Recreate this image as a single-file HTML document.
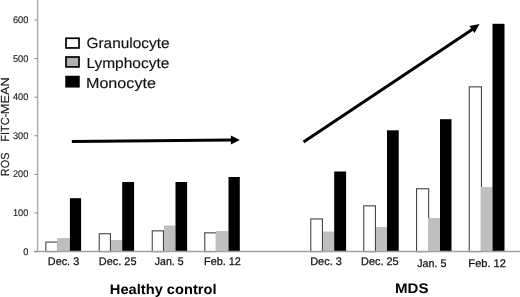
<!DOCTYPE html>
<html><head><meta charset="utf-8"><style>
html,body{margin:0;padding:0;background:#fff;}
body{width:520px;height:297px;overflow:hidden;}
svg{display:block;will-change:transform;}
text{font-family:"Liberation Sans",sans-serif;text-rendering:geometricPrecision;}
</style></head><body>
<svg width="520" height="297" viewBox="0 0 520 297">
<rect width="520" height="297" fill="#fff"/>
<g>
<rect x="45.85" y="242.05" width="12.10" height="9.55" fill="#fff" stroke="#454545" stroke-width="1.1"/>
<rect x="57.30" y="238.00" width="12.60" height="13.60" fill="#bfbfbf"/>
<rect x="69.90" y="198.20" width="11.20" height="53.40" fill="#000"/>
<rect x="99.25" y="233.75" width="11.20" height="17.85" fill="#fff" stroke="#454545" stroke-width="1.1"/>
<rect x="111.00" y="240.00" width="11.20" height="11.60" fill="#bfbfbf"/>
<rect x="122.20" y="182.00" width="11.90" height="69.60" fill="#000"/>
<rect x="152.25" y="230.85" width="11.20" height="20.75" fill="#fff" stroke="#454545" stroke-width="1.1"/>
<rect x="164.00" y="225.50" width="11.50" height="26.10" fill="#bfbfbf"/>
<rect x="175.50" y="182.00" width="11.60" height="69.60" fill="#000"/>
<rect x="204.75" y="232.85" width="11.70" height="18.75" fill="#fff" stroke="#454545" stroke-width="1.1"/>
<rect x="215.80" y="231.00" width="12.70" height="20.60" fill="#bfbfbf"/>
<rect x="228.50" y="177.00" width="11.30" height="74.60" fill="#000"/>
<rect x="310.75" y="218.95" width="11.70" height="32.65" fill="#fff" stroke="#454545" stroke-width="1.1"/>
<rect x="323.00" y="231.50" width="11.20" height="20.10" fill="#bfbfbf"/>
<rect x="334.20" y="171.50" width="11.90" height="80.10" fill="#000"/>
<rect x="363.75" y="205.85" width="11.70" height="45.75" fill="#fff" stroke="#454545" stroke-width="1.1"/>
<rect x="376.00" y="227.00" width="11.00" height="24.60" fill="#bfbfbf"/>
<rect x="387.00" y="130.30" width="11.70" height="121.30" fill="#000"/>
<rect x="416.55" y="188.75" width="12.10" height="62.85" fill="#fff" stroke="#454545" stroke-width="1.1"/>
<rect x="428.00" y="218.00" width="12.00" height="33.60" fill="#bfbfbf"/>
<rect x="440.00" y="119.20" width="11.50" height="132.40" fill="#000"/>
<rect x="469.25" y="86.85" width="12.20" height="164.75" fill="#fff" stroke="#454545" stroke-width="1.1"/>
<rect x="480.80" y="187.00" width="11.70" height="64.60" fill="#bfbfbf"/>
<rect x="492.50" y="23.80" width="12.00" height="227.80" fill="#000"/>
</g>
<line x1="37.6" y1="0" x2="37.6" y2="251.6" stroke="#acacac" stroke-width="1.4"/>
<line x1="34.3" y1="251.6" x2="520" y2="251.6" stroke="#a2a2a2" stroke-width="1.5"/>
<g font-size="9.7" fill="#151515" stroke="#151515" stroke-width="0.12">
<line x1="34.3" y1="251.60" x2="37.5" y2="251.60" stroke="#8c8c8c" stroke-width="1"/>
<text transform="translate(28.3,254.55) scale(0.95,1)" text-anchor="end">0</text>
<line x1="34.3" y1="213.00" x2="37.5" y2="213.00" stroke="#8c8c8c" stroke-width="1"/>
<text transform="translate(28.3,215.95) scale(0.95,1)" text-anchor="end">100</text>
<line x1="34.3" y1="174.40" x2="37.5" y2="174.40" stroke="#8c8c8c" stroke-width="1"/>
<text transform="translate(28.3,177.35) scale(0.95,1)" text-anchor="end">200</text>
<line x1="34.3" y1="135.80" x2="37.5" y2="135.80" stroke="#8c8c8c" stroke-width="1"/>
<text transform="translate(28.3,138.75) scale(0.95,1)" text-anchor="end">300</text>
<line x1="34.3" y1="97.20" x2="37.5" y2="97.20" stroke="#8c8c8c" stroke-width="1"/>
<text transform="translate(28.3,100.15) scale(0.95,1)" text-anchor="end">400</text>
<line x1="34.3" y1="58.60" x2="37.5" y2="58.60" stroke="#8c8c8c" stroke-width="1"/>
<text transform="translate(28.3,61.55) scale(0.95,1)" text-anchor="end">500</text>
<line x1="34.3" y1="20.00" x2="37.5" y2="20.00" stroke="#8c8c8c" stroke-width="1"/>
<text transform="translate(28.3,22.95) scale(0.95,1)" text-anchor="end">600</text>
</g>
<text transform="translate(9.30,176.13) rotate(-90) scale(0.9287,1)" font-size="11.7" font-weight="400" fill="#1a1a1a" stroke="#1a1a1a" stroke-width="0.15">ROS</text>
<text transform="translate(9.30,141.80) rotate(-90) scale(0.9400,1)" font-size="11.7" font-weight="400" fill="#1a1a1a" stroke="#1a1a1a" stroke-width="0.15">FITC-</text>
<text transform="translate(9.30,114.20) rotate(-90) scale(1.0890,1)" font-size="11.7" font-weight="400" fill="#1a1a1a" stroke="#1a1a1a" stroke-width="0.15">MEAN</text>
<text transform="translate(86.45,47.90) scale(1.0557,1)" font-size="14.6" font-weight="400" fill="#111" stroke="#111" stroke-width="0.15">Granulocyte</text>
<text transform="translate(86.43,67.60) scale(1.0603,1)" font-size="14.6" font-weight="400" fill="#111" stroke="#111" stroke-width="0.15">Lymphocyte</text>
<text transform="translate(85.96,88.00) scale(1.1055,1)" font-size="14.6" font-weight="400" fill="#111" stroke="#111" stroke-width="0.15">Monocyte</text>
<text transform="translate(47.81,264.90) scale(0.9871,1)" font-size="11.0" font-weight="400" fill="#111" stroke="#111" stroke-width="0.25">Dec. 3</text>
<text transform="translate(98.79,264.90) scale(0.9947,1)" font-size="11.0" font-weight="400" fill="#111" stroke="#111" stroke-width="0.25">Dec. 25</text>
<text transform="translate(154.83,264.90) scale(0.9590,1)" font-size="11.0" font-weight="400" fill="#111" stroke="#111" stroke-width="0.25">Jan. 5</text>
<text transform="translate(204.09,264.90) scale(0.9862,1)" font-size="11.0" font-weight="400" fill="#111" stroke="#111" stroke-width="0.25">Feb. 12</text>
<text transform="translate(310.20,264.90) scale(0.9968,1)" font-size="11.0" font-weight="400" fill="#111" stroke="#111" stroke-width="0.25">Dec. 3</text>
<text transform="translate(361.11,264.90) scale(0.9891,1)" font-size="11.0" font-weight="400" fill="#111" stroke="#111" stroke-width="0.25">Dec. 25</text>
<text transform="translate(417.22,266.90) scale(0.9728,1)" font-size="11.0" font-weight="400" fill="#111" stroke="#111" stroke-width="0.25">Jan. 5</text>
<text transform="translate(468.37,266.90) scale(1.0057,1)" font-size="11.0" font-weight="400" fill="#111" stroke="#111" stroke-width="0.25">Feb. 12</text>
<text transform="translate(109.85,293.60) scale(1.0470,1)" font-size="14.0" font-weight="700" fill="#000">Healthy control</text>
<text transform="translate(395.04,293.40) scale(1.0779,1)" font-size="14.0" font-weight="700" fill="#000">MDS</text>
<rect x="66" y="38.25" width="13" height="9.7" fill="#fff" stroke="#000" stroke-width="1.7"/>
<rect x="66" y="57" width="13" height="9.9" fill="#b0b0b0" stroke="#000" stroke-width="1.7"/>
<rect x="66" y="76.5" width="13" height="10.3" fill="#000" stroke="#000" stroke-width="1.5"/>
<line x1="71.8" y1="141.4" x2="232" y2="140" stroke="#000" stroke-width="3"/>
<polygon points="239.9,140 230.9,135.5 230.9,144.4" fill="#000"/>
<line x1="303.5" y1="141.9" x2="473" y2="28.9" stroke="#000" stroke-width="2.95"/>
<polygon points="479.6,24.1 469.4,26.1 474.5,33.1" fill="#000"/>
</svg>
</body></html>
